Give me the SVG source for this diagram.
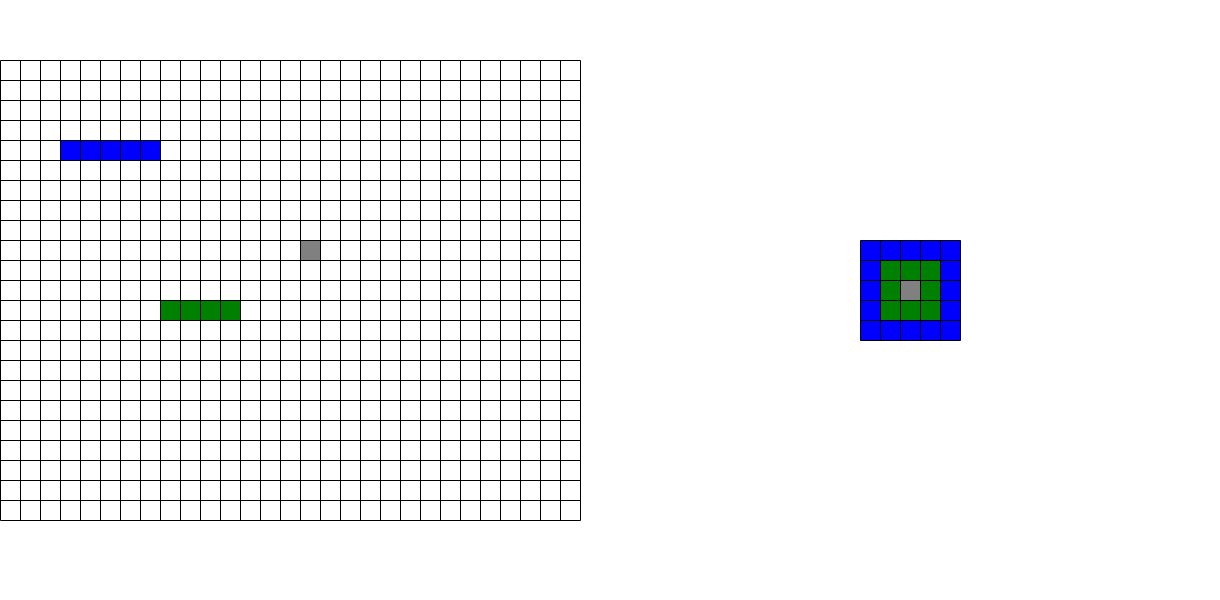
<svg xmlns="http://www.w3.org/2000/svg" width="1220" height="600" viewBox="0 0 1220 600">
<defs>
<style>
.c{stroke:#000;stroke-width:1}
.w{fill:#fff}.b{fill:#0000ff}.g{fill:#008000}.y{fill:#808080}
.grid{stroke:#000;stroke-width:1;fill:none}
</style>
<pattern id="cells" x="0.5" y="60.5" width="20" height="20" patternUnits="userSpaceOnUse">
<path d="M0 0.5H20M0.5 0V20" stroke="#000" stroke-width="1" fill="none" transform="translate(-0.5,-0.5)"/>
</pattern>
</defs>
<rect width="1220" height="600" fill="#fff"/>
<g id="grid-left">
<rect x="60.5" y="140.5" width="100" height="20" class="b"/>
<rect x="160.5" y="300.5" width="80" height="20" class="g"/>
<rect x="300.5" y="240.5" width="20" height="20" class="y"/>
<path class="grid" d="M0.5 60.5V520.5M20.5 60.5V520.5M40.5 60.5V520.5M60.5 60.5V520.5M80.5 60.5V520.5M100.5 60.5V520.5M120.5 60.5V520.5M140.5 60.5V520.5M160.5 60.5V520.5M180.5 60.5V520.5M200.5 60.5V520.5M220.5 60.5V520.5M240.5 60.5V520.5M260.5 60.5V520.5M280.5 60.5V520.5M300.5 60.5V520.5M320.5 60.5V520.5M340.5 60.5V520.5M360.5 60.5V520.5M380.5 60.5V520.5M400.5 60.5V520.5M420.5 60.5V520.5M440.5 60.5V520.5M460.5 60.5V520.5M480.5 60.5V520.5M500.5 60.5V520.5M520.5 60.5V520.5M540.5 60.5V520.5M560.5 60.5V520.5M580.5 60.5V520.5M0.5 60.5H580.5M0.5 80.5H580.5M0.5 100.5H580.5M0.5 120.5H580.5M0.5 140.5H580.5M0.5 160.5H580.5M0.5 180.5H580.5M0.5 200.5H580.5M0.5 220.5H580.5M0.5 240.5H580.5M0.5 260.5H580.5M0.5 280.5H580.5M0.5 300.5H580.5M0.5 320.5H580.5M0.5 340.5H580.5M0.5 360.5H580.5M0.5 380.5H580.5M0.5 400.5H580.5M0.5 420.5H580.5M0.5 440.5H580.5M0.5 460.5H580.5M0.5 480.5H580.5M0.5 500.5H580.5M0.5 520.5H580.5"/>
</g>
<g id="grid-right">
<rect x="860.5" y="240.5" width="100" height="100" class="b"/>
<rect x="880.5" y="260.5" width="60" height="60" class="g"/>
<rect x="900.5" y="280.5" width="20" height="20" class="y"/>
<path class="grid" d="M860.5 240.5V340.5M880.5 240.5V340.5M900.5 240.5V340.5M920.5 240.5V340.5M940.5 240.5V340.5M960.5 240.5V340.5M860.5 240.5H960.5M860.5 260.5H960.5M860.5 280.5H960.5M860.5 300.5H960.5M860.5 320.5H960.5M860.5 340.5H960.5"/>
</g>
</svg>
